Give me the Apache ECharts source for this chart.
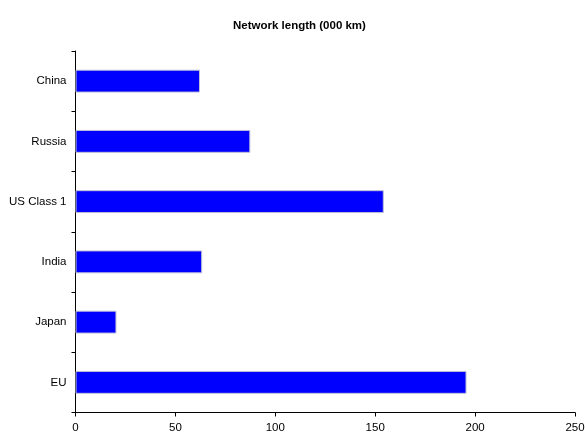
<!DOCTYPE html>
<html><head><meta charset="utf-8">
<script src="https://cdn.jsdelivr.net/npm/echarts@6/dist/echarts.min.js"></script>
<style>html,body{margin:0;padding:0;background:#fff}#c{width:585px;height:439px}</style>
</head><body><div id="c"></div>
<script>
const categories = ['China', 'Russia', 'US Class 1', 'India', 'Japan', 'EU'];
const networkLength = [62.3, 87.5, 154.3, 63.4, 20.5, 195.7];
const xTicks = [0, 50, 100, 150, 200, 250];

const FONT = '"Liberation Sans", Arial, sans-serif';
const chart = echarts.init(document.getElementById('c'));
chart.setOption({
  animation: false,
  backgroundColor: '#fff',
  title: {
    text: 'Network length (000 km)',
    left: 228, top: 15,
    textStyle: { fontFamily: FONT, fontSize: 11.5, fontWeight: 'bold', color: '#000' }
  },
  grid: { left: 75.5, right: 10, top: 51, bottom: 26.5, containLabel: false, outerBoundsMode: 'none' },
  xAxis: {
    type: 'value', min: xTicks[0], max: xTicks[xTicks.length - 1], interval: 50,
    axisLine: { show: true, lineStyle: { color: '#000', width: 1 } },
    axisTick: { show: true, length: 4, lineStyle: { color: '#000' } },
    splitLine: { show: false },
    axisLabel: { color: '#000', fontFamily: FONT, fontSize: 11.5, margin: 9 }
  },
  yAxis: {
    type: 'category', data: categories, inverse: true,
    axisLine: { show: true, lineStyle: { color: '#000', width: 1 } },
    axisTick: { show: true, length: 4, alignWithLabel: false, lineStyle: { color: '#000' } },
    axisLabel: { color: '#000', fontFamily: FONT, fontSize: 11.5, margin: 9 }
  },
  series: [{
    type: 'bar', data: networkLength, barWidth: '38%',
    itemStyle: { color: '#0000ff', borderColor: '#c0c0d8', borderWidth: 1 }
  }]
});
</script></body></html>
